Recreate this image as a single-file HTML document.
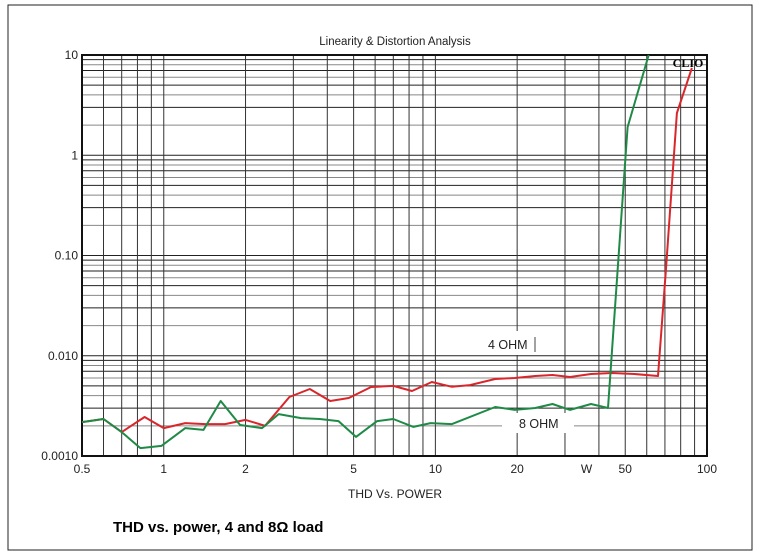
<!DOCTYPE html>
<html><head><meta charset="utf-8"><style>
body{margin:0;background:#fff;}
svg{display:block;font-family:"Liberation Sans",Arial,sans-serif;}
</style></head><body>
<svg id="c" width="760" height="557" viewBox="0 0 760 557">
<rect x="8" y="5" width="744" height="545" fill="#fff" stroke="#222" stroke-width="1"/>
<text x="395" y="45" font-size="11.5" text-anchor="middle" fill="#222">Linearity &amp; Distortion Analysis</text>
<g id="grid"></g>
<g id="series"></g>
<g id="labels"></g>
<text x="688" y="67" font-size="12" font-weight="bold" font-family="Liberation Serif,serif" text-anchor="middle">CLIO</text>
<text x="395" y="498" font-size="12" text-anchor="middle" fill="#222">THD Vs. POWER</text>
<text x="113" y="532" font-size="15" font-weight="bold">THD vs. power, 4 and 8Ω load</text>
</svg>
<script>
const xTickVals=[0.5,1,2,5,10,20,50,100];
const xTickLabels=["0.5","1","2","5","10","20","50","100"];
const yTickVals=[10,1,0.1,0.01,0.001];
const yTickLabels=["10","1","0.10","0.010","0.0010"];
const greenX=[0.5,0.6,0.7,0.82,0.98,1.2,1.4,1.62,1.91,2.3,2.65,3.2,3.75,4.4,5.1,6.1,7.0,8.3,9.6,11.5,16.6,19.6,23.3,27,31.3,37.4,43.2,51,61];
const greenY=[0.00218,0.00234,0.00173,0.0012,0.00126,0.0019,0.00182,0.00354,0.00204,0.0019,0.00262,0.00239,0.00234,0.00223,0.00155,0.00223,0.00234,0.00195,0.00213,0.00208,0.00308,0.00288,0.00301,0.0033,0.00288,0.0033,0.00301,1.91,10];
const redX=[0.5,0.6,0.7,0.85,1.0,1.2,1.42,1.68,2.0,2.36,2.9,3.45,4.1,4.8,5.8,7.0,8.2,9.7,11.5,13.4,16.6,19.6,23.3,27,31.3,37.4,44.7,54,66,70.6,77.5,88];
const redY=[0.00218,0.00234,0.00173,0.00245,0.0019,0.00213,0.00208,0.00208,0.00229,0.002,0.00388,0.00466,0.00354,0.00379,0.00488,0.005,0.00445,0.00547,0.0049,0.0051,0.00586,0.006,0.00628,0.00643,0.00614,0.00658,0.00673,0.00658,0.00628,0.0716,2.64,7.42];
const X0=82,X1=707,Y0=55,Y1=456;
const lx0=Math.log10(0.5),lx1=Math.log10(100);
function xs(v){return X0+(Math.log10(v)-lx0)/(lx1-lx0)*(X1-X0);}
function ys(v){return Y1-(Math.log10(v)+3)/4*(Y1-Y0);}
const NS="http://www.w3.org/2000/svg";
function mk(t,a,p){const e=document.createElementNS(NS,t);for(const k in a)e.setAttribute(k,a[k]);p.appendChild(e);return e;}
const grid=document.getElementById('grid');
for(let d=-3;d<1;d++){for(let m=1;m<10;m++){const v=m*Math.pow(10,d);const y=ys(v);
const l=mk('line',{x1:X0,x2:X1,y1:y,y2:y,stroke:(m%2?'#222':'#888'),'stroke-width':1},grid);
}}
const vmult=[0.5,0.6,0.7,0.8,0.9,1,2,3,4,5,6,7,8,9,10,20,30,40,50,60,70,80,90];
vmult.forEach(v=>{const x=xs(v);const l=mk('line',{x1:x,x2:x,y1:Y0,y2:Y1,stroke:'#333','stroke-width':1},grid);
});
const fr=mk('rect',{x:X0,y:Y0,width:X1-X0,height:Y1-Y0,fill:'none',stroke:'#111','stroke-width':2},grid);

const lab=document.getElementById('labels');
[[470,331,92,24,'4 OHM',488,349,'label-4-ohm'],[502,413,72,20,'8 OHM',519,428,'label-8-ohm']].forEach(b=>{
const r=mk('rect',{x:b[0],y:b[1],width:b[2],height:b[3],fill:'#fff'},grid);

const t=mk('text',{x:b[5],y:b[6],'font-size':12.5,fill:'#222'},lab);t.textContent=b[4];
});
const ml=mk('line',{x1:535,x2:535,y1:337,y2:352,stroke:'#444'},lab);

xTickVals.forEach((v,i)=>{const t=mk('text',{x:xs(v),y:473,'font-size':12,'text-anchor':'middle',fill:'#222'},lab);t.textContent=xTickLabels[i];
});
const w=mk('text',{x:xs(36),y:473,'font-size':12,'text-anchor':'middle',fill:'#222'},lab);w.textContent='W';

yTickVals.forEach((v,i)=>{const t=mk('text',{x:78,y:ys(v)+4,'font-size':12,'text-anchor':'end',fill:'#222'},lab);t.textContent=yTickLabels[i];
});
const ser=document.getElementById('series');
function line(xa,ya,col,name){const pts=xa.map((x,i)=>xs(x).toFixed(1)+','+ys(ya[i]).toFixed(1)).join(' ');
const p=mk('polyline',{points:pts,fill:'none',stroke:col,'stroke-width':2,'stroke-linejoin':'round'},ser);
}
line(redX,redY,'#d9262b','series-4-ohm');
line(greenX,greenY,'#1f8a45','series-8-ohm');
</script>
</body></html>
